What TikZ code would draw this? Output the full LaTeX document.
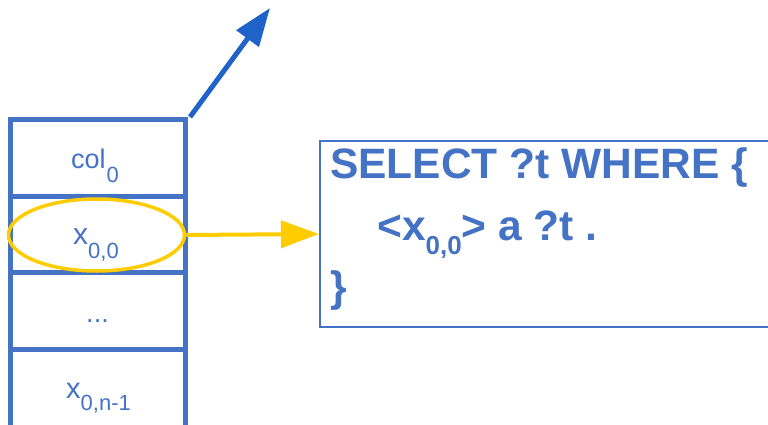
\documentclass[tikz,border=0pt]{standalone}
\usepackage{fontspec}
\setmainfont{Liberation Sans}
\usetikzlibrary{arrows.meta,shapes.geometric}
\definecolor{cellblue}{HTML}{4472C4}
\definecolor{arrowblue}{HTML}{1F63C8}
\definecolor{gold}{HTML}{FFCC00}
% lowered subscript: #1 drop (pt), #2 size (pt), #3 text
\newcommand{\dn}[3]{\raisebox{-#1pt}{\fontsize{#2}{#2}\selectfont #3}}
\tikzset{
  cellbox/.style={draw=cellblue, line width=5pt, minimum width=175pt, inner sep=0pt},
  celltext/.style={text=cellblue, anchor=base west, inner sep=0pt},
  qtext/.style={text=cellblue, anchor=base west, inner sep=0pt, font=\fontsize{42.5}{50}\selectfont\bfseries},
  bigarrow/.style={-{Triangle[length=38pt,width=27pt]}},
}
\begin{document}
\begin{tikzpicture}[x=1pt, y=-1pt]
\useasboundingbox (0,0) rectangle (768,425);

% column of cells
\node[cellbox, minimum height=76pt] (c0) at (97.5,158) {};
\node[cellbox, minimum height=76pt] (c1) at (97.5,234) {};
\node[cellbox, minimum height=77pt] (c2) at (97.5,310.5) {};
\node[cellbox, minimum height=91pt] (c3) at (97.5,394.5) {};

\node[celltext, font=\fontsize{27}{30}\selectfont] (t0) at (71,168) {col\kern1pt\dn{14}{22}{0}};
\node[celltext, font=\fontsize{30}{33}\selectfont] (t1) at (73,244) {x\dn{14}{22}{0,0}};
\node[celltext, font=\fontsize{27}{30}\selectfont, anchor=base] (t2) at (97.5,322) {...};
\node[celltext, font=\fontsize{29}{33}\selectfont] (t3) at (66,398) {x\dn{12}{22}{0,n-1}};

% highlighted value
\node[draw=gold, line width=3.5pt, ellipse, minimum width=176pt, minimum height=72pt, inner sep=0pt] (hl) at (96.5,235) {};

% query box
\node[draw=cellblue, line width=2pt, minimum width=480pt, minimum height=186pt, inner sep=0pt, anchor=north west] (qbox) at (319,140) {};
\node[qtext] (q1) at (330,178) {SELECT ?t WHERE \{};
\node[qtext] (q2) at (377,240) {<x\dn{14}{26}{0,0}> a ?t .};
\node[qtext] (q3) at (330,301) {\}};

% connectors
\draw[gold, line width=4pt, bigarrow] (hl.east) -- (qbox.west);
\coordinate (bstart) at (190,117);
\coordinate (btip) at (270,8);
\draw[arrowblue, line width=5pt, bigarrow] (bstart) -- (btip);
\end{tikzpicture}
\end{document}
